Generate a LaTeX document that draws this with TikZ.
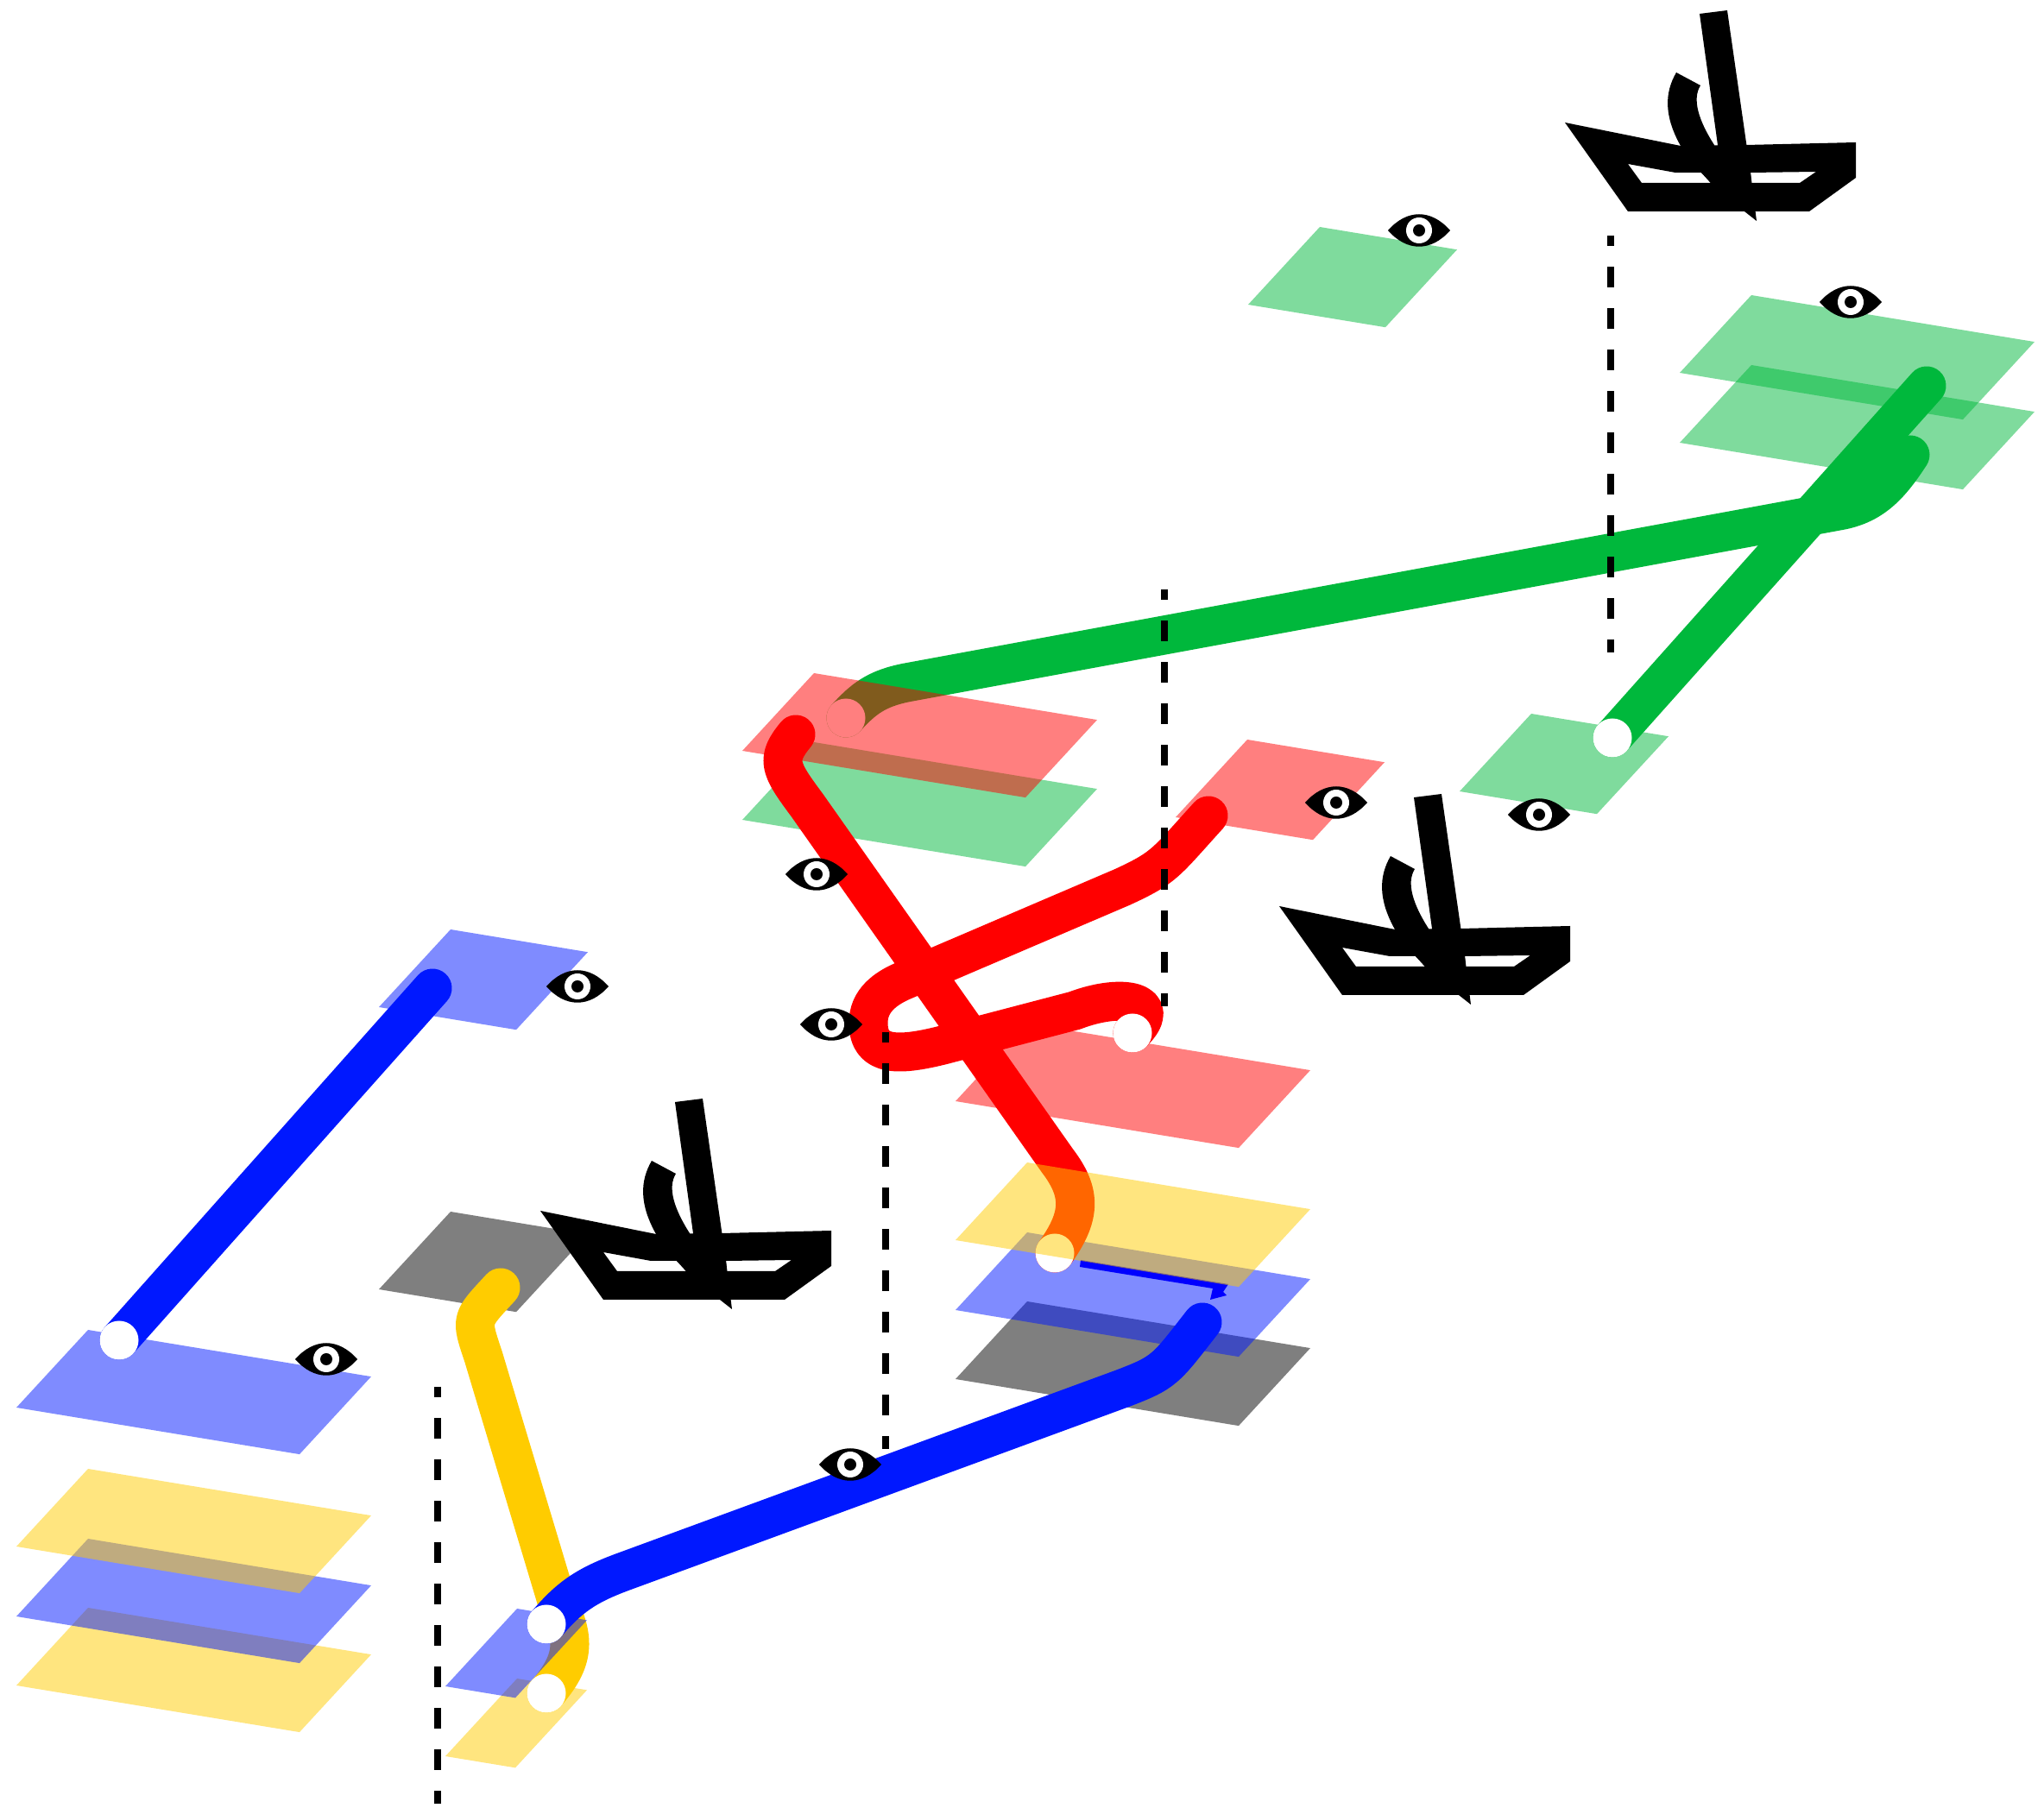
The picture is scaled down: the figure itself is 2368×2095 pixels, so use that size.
\documentclass[tikz,border=0pt]{standalone}
\usepackage{xcolor}
\definecolor{layerblue}{RGB}{0, 24, 255}
\definecolor{layergreen}{RGB}{0, 184, 60}
\definecolor{layeryellow}{RGB}{255, 204, 0}
\definecolor{layerred}{RGB}{255, 0, 0}
\tikzset{
	wire/.style={line width=0.45cm, line cap=round, line join=round},
	viewline/.style={black, line width=0.085cm, dash pattern=on 0.24cm off 0.24cm, dash phase=0.12cm},
	pad/.style={white, radius=22.5},
	eye/.pic={
		\fill[black] (-36,0) .. controls (-14,-25) and (14,-25) .. (36,0) .. controls (14,25) and (-14,25) .. (-36,0) -- cycle;
		\fill[white] (0,0) circle[radius=15];
		\fill[black] (0,0) circle[radius=7];
	},
	boat/.pic={
		% hull with its two openings
		\fill[black, even odd rule] (33,142) -- (167,169) -- (243,168) -- (370,165) -- (370,206) -- (316,245) -- (106,245) -- cycle
			(106,190) -- (161,200) -- (191,200) -- (202,212) -- (122,212) -- cycle
			(248,200) -- (324,199) -- (305,212) -- (249,212) -- cycle;
		% mast
		\fill[black] (189,16) -- (221,12) -- (248,200) -- (255,256) -- (241,245) -- (202,212) -- (210,168) -- cycle;
		% flag
		\fill[black] (162,84) -- (190,99) .. controls (180,115) and (188,140) .. (206,168) -- (215,215) -- (202,212) -- (191,200) -- (167,169) .. controls (148,135) and (148,108) .. (162,84) -- cycle;
	},
}
\begin{document}
\begin{tikzpicture}[x=0.01cm, y=-0.01cm]
	\useasboundingbox (0,0) rectangle (2368,2095);
	\def\plane#1#2#3#4{\fill[#1, fill opacity=0.5] (#2,#3) -- ++(83,-90) -- ++(#4,{0.165*#4}) -- ++(-83,90) -- cycle;}
	\def\bw{328}
	\def\mw{159}
	\def\sw{81}
	
	% green layers
	\plane{layergreen}{1946}{513}{\bw}
	\plane{layergreen}{1946}{432}{\bw}
	\plane{layergreen}{1446}{353}{\mw}
	\plane{layergreen}{1691}{917}{\mw}
	\draw[wire, layergreen] (1868,855) -- (2232,447);
	\fill[pad] (1868,855) circle;
	\draw[wire, layergreen] (980,832) .. controls (1000,810) and (1015,798) .. (1050,791) -- (2130,592) .. controls (2170,585) and (2190,562) .. (2213,527);
	\fill[pad] (980,832) circle;
	
	% red layers
	\plane{layergreen}{860}{950}{\bw}
	\plane{layerred}{860}{870}{\bw}
	\plane{layerred}{1362}{947}{\mw}
	\plane{layerred}{1107}{1276}{\bw}
	\plane{black}{1107}{1598}{\bw}
	\plane{layerblue}{1107}{1518}{\bw}
	\draw[wire, layerred] (1222,1452) .. controls (1252,1410) and (1254,1383) .. (1225,1345) -- (935,933) .. controls (903,890) and (898,880) .. (922,851);
	\draw[wire, layerred] (1312,1197) .. controls (1350,1160) and (1300,1150) .. (1245,1171) -- (1100,1209) .. controls (1040,1225) and (1006,1225) .. (1006,1185) .. controls (1006,1160) and (1025,1145) .. (1050,1135) -- (1300,1028) .. controls (1350,1005) and (1350,1000) .. (1400,945);
	\fill[pad] (1222,1452) circle;
	\fill[pad] (1312,1197) circle;
	\fill[blue] (1252,1460) -- (1423,1488) -- (1417,1497) -- (1421,1501) -- (1402,1506) -- (1405,1493) -- (1251,1468) -- cycle;
	\plane{layeryellow}{1107}{1437}{\bw}
	
	% blue layers on the left
	\plane{layeryellow}{19}{1953}{\bw}
	\plane{layerblue}{19}{1873}{\bw}
	\plane{layeryellow}{19}{1792}{\bw}
	\plane{layerblue}{19}{1631}{\bw}
	\plane{layerblue}{439}{1167}{\mw}
	\draw[wire, layerblue] (138,1553) -- (501,1145);
	\fill[pad] (138,1553) circle;
	
	% yellow and blue at the bottom
	\plane{black}{439}{1494}{\mw}
	\plane{layeryellow}{516}{2035}{\sw}
	\draw[wire, layeryellow] (633,1962) .. controls (665,1925) and (668,1900) .. (645,1855) -- (560,1572) .. controls (545,1527) and (545,1530) .. (580,1492);
	\fill[pad] (633,1962) circle;
	\plane{layerblue}{516}{1954}{\sw}
	\draw[wire, layerblue] (633,1882) .. controls (660,1850) and (680,1837) .. (720,1822) -- (1300,1609) .. controls (1350,1590) and (1350,1587) .. (1393,1532);
	\fill[pad] (633,1882) circle;
	
	% boats
	\pic at (1780,0) {boat};
	\pic at (1449,908) {boat};
	\pic at (593,1261) {boat};
	
	% view lines
	\foreach \vx/\vy in {1349/683, 1866/273, 1026/1196, 507/1607}
		\draw[viewline] (\vx,\vy) -- ++(0,483);
	
	% eyes
	\foreach \ex/\ey in {1644/267, 2144/350, 1783/944, 1548/930, 946/1013, 963/1187, 669/1143, 378/1575, 985/1697}
		\pic at (\ex,\ey) {eye};
\end{tikzpicture}
\end{document}
